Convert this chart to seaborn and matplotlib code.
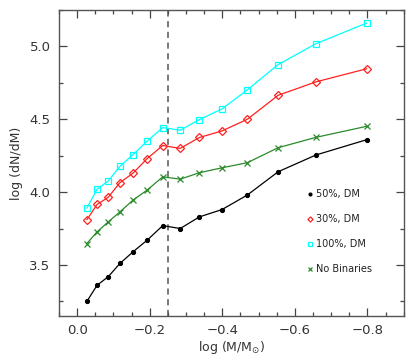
import numpy as np
import pandas as pd
import seaborn as sns
import matplotlib
matplotlib.use("Agg")
import matplotlib.pyplot as plt
from matplotlib.lines import Line2D
from matplotlib.ticker import MultipleLocator

# log(M/Msun) bins, shared by all runs
log_m = [-0.027, -0.055, -0.086, -0.118, -0.154, -0.193, -0.236,
         -0.284, -0.337, -0.399, -0.469, -0.554, -0.658, -0.798]

# log(dN/dM) for each binary setup
dm50 = [3.25, 3.36, 3.42, 3.51, 3.59, 3.67, 3.77,
        3.75, 3.83, 3.88, 3.98, 4.14, 4.255, 4.36]
dm30 = [3.81, 3.915, 3.965, 4.065, 4.13, 4.23, 4.32,
        4.30, 4.375, 4.42, 4.50, 4.665, 4.757, 4.847]
dm100 = [3.89, 4.02, 4.077, 4.177, 4.257, 4.35, 4.443,
         4.425, 4.498, 4.571, 4.702, 4.876, 5.019, 5.161]
no_bin = [3.647, 3.727, 3.796, 3.864, 3.945, 4.014, 4.105,
          4.089, 4.133, 4.167, 4.202, 4.305, 4.376, 4.452]

labels = ["50%, DM", "30%, DM", "100%, DM", "No Binaries"]
cut = -0.25

sns.set_style("ticks")
plt.rcParams["font.family"] = ["DejaVu Sans"]

fig = plt.figure(figsize=(4.15, 3.59), dpi=100)
ax = fig.add_axes([0.142, 0.120, 0.831, 0.852])

ax.axvline(cut, color="#555555", ls=(0, (4, 3)), lw=1.1, zorder=1)

styles = [
    (dm50, "black", "o", dict(ms=3, mfc="black")),
    (dm30, "#ff2020", "D", dict(ms=4, mfc="none", mew=0.9)),
    (dm100, "#00ffff", "s", dict(ms=5, mfc="none", mew=0.9)),
    (no_bin, "#2a8a2a", "x", dict(ms=5, mew=0.9)),
]
handles = []
for (vals, col, mk, kw), lab in zip(styles, labels):
    sns.lineplot(x=log_m, y=vals, ax=ax, color=col, marker=mk,
                 mec=col, lw=0.9, **kw)
    handles.append(Line2D([], [], ls="none", color=col, marker=mk, mec=col,
                          **{k: (v * 0.65 if k == "ms" else v) for k, v in kw.items()}))

ax.set_xlim(0.05, -0.9)
ax.set_ylim(3.15, 5.25)
ax.xaxis.set_major_locator(MultipleLocator(0.2))
ax.xaxis.set_minor_locator(MultipleLocator(0.05))
ax.yaxis.set_major_locator(MultipleLocator(0.5))
ax.yaxis.set_minor_locator(MultipleLocator(0.25))
ax.set_xticks([0.0, -0.2, -0.4, -0.6, -0.8])
ax.set_xticklabels(["0.0", "\u22120.2", "\u22120.4", "\u22120.6", "\u22120.8"])
ax.set_yticks([3.5, 4.0, 4.5, 5.0])
ax.set_yticklabels(["3.5", "4.0", "4.5", "5.0"])

ax.tick_params(which="both", direction="in", top=True, right=True,
               colors="#444444", labelcolor="#333333", labelsize=9.5, width=0.9)
ax.tick_params(which="major", length=6, pad=6)
ax.tick_params(which="minor", length=3)
for s in ax.spines.values():
    s.set_color("#555555")
    s.set_linewidth(1.0)

ax.set_xlabel("log (M/M$_{\\odot}$)", fontsize=9, color="#333333", labelpad=1)
ax.set_ylabel("log (dN/dM)", fontsize=9, color="#333333", labelpad=5)

ax.legend(handles, labels, loc="center left", bbox_to_anchor=(0.69, 0.275),
          frameon=False, fontsize=7, handlelength=0.8, handletextpad=0.3,
          labelspacing=1.55, labelcolor="#222222")

fig.savefig("out.png", dpi=100)
